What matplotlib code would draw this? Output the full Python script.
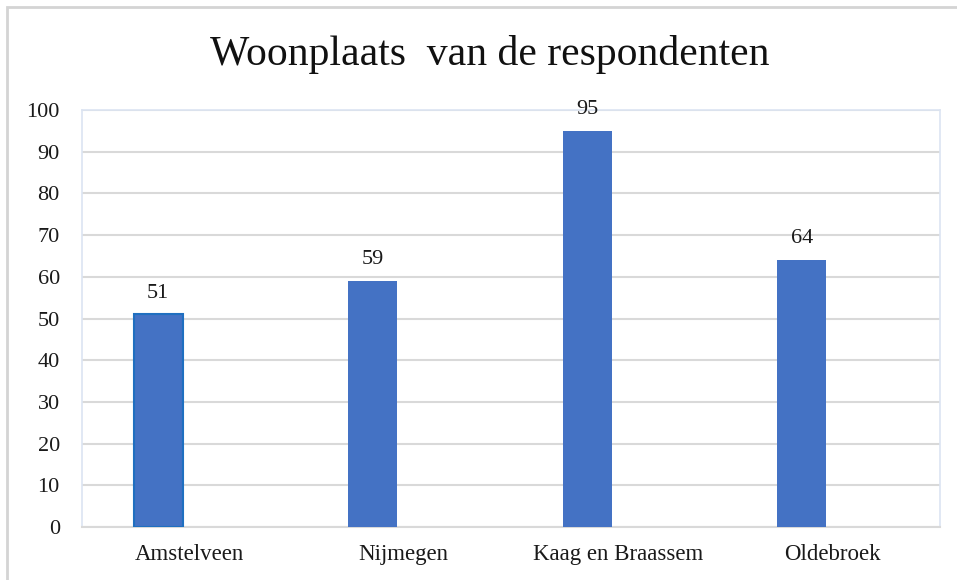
import matplotlib
matplotlib.use("Agg")
import matplotlib.pyplot as plt
from matplotlib.patches import Rectangle

categories = ["Amstelveen", "Nijmegen", "Kaag en Braassem", "Oldebroek"]
values = [51, 59, 95, 64]
yticks = list(range(0, 101, 10))

BAR_COLOR = "#4472C4"
GRID_COLOR = "#D9D9D9"
BAR_OFFSET = -0.145
BAR_WIDTH = 0.229

plt.rcParams['font.family'] = ['Liberation Serif', 'DejaVu Serif']

fig = plt.figure(figsize=(9.57, 5.8), dpi=100)
ax = fig.add_axes([82 / 957, 53 / 580, 858 / 957, 417 / 580])

x = list(range(len(categories)))
bars = ax.bar([i + BAR_OFFSET for i in x], values, width=BAR_WIDTH,
              color=BAR_COLOR, zorder=3)
bars[0].set_edgecolor("#1F6FC0")
bars[0].set_linewidth(1.5)

for b, v in zip(bars, values):
    ax.annotate(str(v), (b.get_x() + b.get_width() / 2, v),
                xytext=(0, 8.5), textcoords="offset points",
                ha="center", va="bottom", fontsize=16, color="#1a1a1a")

ax.set_xlim(-0.5, len(categories) - 0.5)
ax.set_ylim(0, 100)
ax.set_yticks(yticks)
ax.set_xticks(x)
ax.set_xticklabels(categories)
ax.tick_params(axis="y", length=0, labelsize=16, colors="#1a1a1a", pad=16)
ax.tick_params(axis="x", length=0, labelsize=16.5, colors="#1a1a1a", pad=12)
ax.grid(axis="y", color=GRID_COLOR, linewidth=1.5, zorder=0)

for side in ["top", "left", "right"]:
    ax.spines[side].set_color("#DCE4F2")
    ax.spines[side].set_linewidth(1.2)
ax.spines["bottom"].set_color(GRID_COLOR)
ax.spines["bottom"].set_linewidth(1.5)

fig.text(490 / 957, 1 - 55 / 580, "Woonplaats  van de respondenten",
         ha="center", va="center", fontsize=30, color="#111111")

# outer chart border
fig.patches.append(Rectangle((7 / 957, -0.1), 1.2, 1.1 - 7 / 580,
                             transform=fig.transFigure, fill=False,
                             edgecolor="#D4D4D4", linewidth=2))

fig.savefig("out.png", dpi=100)
